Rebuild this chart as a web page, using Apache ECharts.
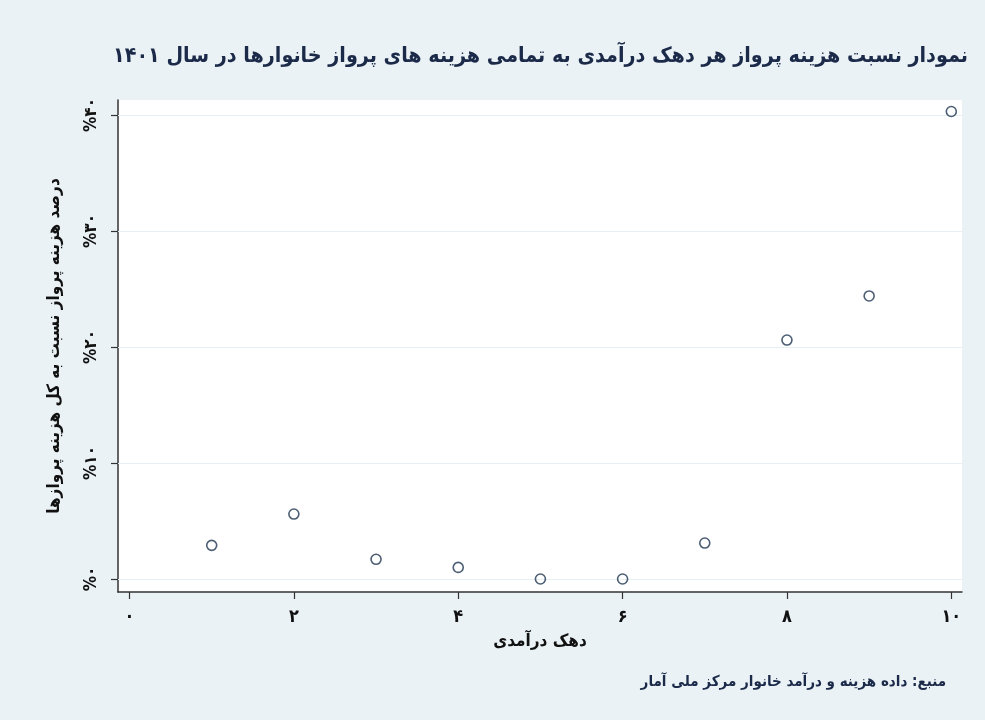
<!DOCTYPE html>
<html>
<head>
<meta charset="utf-8">
<script src="https://cdn.jsdelivr.net/npm/echarts@6/dist/echarts.min.js"></script>
<style>
html, body { margin: 0; padding: 0; background: #eaf2f5; }
#chart { width: 985px; height: 720px; }
</style>
</head>
<body>
<div id="chart"></div>
<script>
// دهک درآمدی و سهم هزینه پرواز (درصد)
var deciles = [1, 2, 3, 4, 5, 6, 7, 8, 9, 10];
var shares = [2.9, 5.6, 1.7, 1.0, 0.0, 0.0, 3.1, 20.6, 24.4, 40.3];
var xTicks = [0, 2, 4, 6, 8, 10];
var yTicks = [0, 10, 20, 30, 40];

var titleText = 'نمودار نسبت هزینه پرواز هر دهک درآمدی به تمامی هزینه های پرواز خانوارها در سال ۱۴۰۱';
var sourceText = 'منبع: داده هزینه و درآمد خانوار مرکز ملی آمار';
var xName = 'دهک درآمدی';
var yName = 'درصد هزینه پرواز نسبت به کل هزینه پروازها';

var FONT = '"DejaVu Sans Condensed", "DejaVu Sans", sans-serif';

function toFa(n) {
    return String(n).replace(/[0-9]/g, function (d) { return '۰۱۲۳۴۵۶۷۸۹'[d]; });
}

var points = [];
for (var i = 0; i < deciles.length; i++) {
    points.push([deciles[i], shares[i]]);
}

var myChart = echarts.init(document.getElementById('chart'));
var option = {
    backgroundColor: '#eaf2f5',
    textStyle: { fontFamily: FONT },
    title: [
        {
            text: titleText,
            right: 12,
            top: 41,
            textStyle: { fontFamily: FONT, fontSize: 21.3, fontWeight: 'bold', color: '#1c2a4a' }
        },
        {
            text: sourceText,
            right: 34,
            top: 670,
            textStyle: { fontFamily: FONT, fontSize: 15, fontWeight: 'bold', color: '#1c2a4a' }
        }
    ],
    grid: {
        left: 118,
        right: 23,
        top: 100,
        bottom: 128,
        show: true,
        backgroundColor: '#ffffff',
        borderWidth: 0
    },
    xAxis: {
        type: 'value',
        min: -0.14,
        max: 10.13,
        name: xName,
        nameLocation: 'middle',
        nameGap: 41,
        nameTextStyle: { fontFamily: FONT, fontSize: 17, fontWeight: 'bold', color: '#111' },
        axisLine: { show: true, onZero: false, lineStyle: { color: '#333', width: 1.5 } },
        axisTick: { show: true, length: 7, lineStyle: { color: '#333', width: 1.2 }, customValues: xTicks },
        axisLabel: {
            margin: 16,
            fontSize: 18,
            fontWeight: 'bold',
            color: '#111',
            customValues: xTicks,
            formatter: function (v) { return toFa(v); }
        },
        splitLine: { show: false }
    },
    yAxis: {
        type: 'value',
        min: -1.12,
        max: 41.29,
        name: yName,
        nameLocation: 'middle',
        nameRotate: 90,
        nameGap: 55,
        nameTextStyle: { fontFamily: FONT, fontSize: 17, fontWeight: 'bold', color: '#111' },
        axisLine: { show: true, onZero: false, lineStyle: { color: '#333', width: 1.5 } },
        axisTick: { show: true, length: 7, lineStyle: { color: '#333', width: 1.2 }, customValues: yTicks },
        axisLabel: {
            margin: 18,
            rotate: 90,
            fontSize: 17,
            fontWeight: 'bold',
            color: '#111',
            customValues: yTicks,
            formatter: function (v) { return '%' + toFa(v); }
        },
        splitLine: { show: false }
    },
    series: [
        {
            type: 'scatter',
            data: points,
            symbol: 'circle',
            symbolSize: 10,
            itemStyle: { color: 'rgba(255,255,255,0)', borderColor: '#1f3650', borderWidth: 1.6 },
            markLine: {
                silent: true,
                symbol: 'none',
                label: { show: false },
                lineStyle: { color: '#e6eff2', width: 1.2, type: 'solid' },
                data: yTicks.map(function (v) { return { yAxis: v }; }),
                z: 1
            },
            z: 3
        }
    ]
};
myChart.setOption(option);
</script>
</body>
</html>
